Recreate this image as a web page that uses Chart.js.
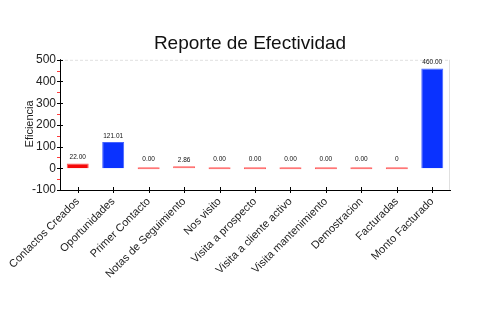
<!DOCTYPE html>
<html><head><meta charset="utf-8">
<script src="https://cdn.jsdelivr.net/npm/chart.js@4"></script>
<style>html,body{margin:0;padding:0;background:#fff}#wrap{width:500px;height:330px}</style>
</head><body><div id="wrap"><canvas id="c" width="500" height="330"></canvas></div>
<script>
const categories = ["Contactos Creados","Oportunidades","Primer Contacto","Notas de Seguimiento","Nos visito","Visita a prospecto","Visita a cliente activo","Visita mantenimiento","Demostracion","Facturadas","Monto Facturado"];
const values = [22.00, 121.01, 0.00, 2.86, 0.00, 0.00, 0.00, 0.00, 0.00, 0, 460.00];
const valueLabels = ["22.00","121.01","0.00","2.86","0.00","0.00","0.00","0.00","0.00","0","460.00"];
const yTicks = [-100, 0, 100, 200, 300, 400, 500];
const minorTicks = [-50, 50, 150, 250, 350, 450];

const FONT = "'Liberation Sans',Arial,sans-serif";
const RED = 'rgb(245,10,10)', BLUE = 'rgb(10,50,255)';
const fills = values.map(v => v >= 100 ? BLUE : (v > 10 ? RED : 'rgb(255,90,90)'));

const extras = {
  id: 'extras',
  afterDraw(chart) {
    const ctx = chart.ctx, y = chart.scales.y, x = chart.scales.x, a = chart.chartArea;
    ctx.save();
    ctx.strokeStyle = '#e0e0e0'; ctx.lineWidth = 1;
    ctx.setLineDash([3,2]);
    ctx.beginPath(); ctx.moveTo(a.left, a.top + 0.5); ctx.lineTo(a.right, a.top + 0.5); ctx.stroke();
    ctx.setLineDash([]);
    ctx.beginPath(); ctx.moveTo(a.right - 0.5, a.top); ctx.lineTo(a.right - 0.5, a.bottom); ctx.stroke();
    ctx.strokeStyle = 'rgb(255,60,60)';
    minorTicks.forEach(v => { const py = Math.round(y.getPixelForValue(v)) + 0.5;
      ctx.beginPath(); ctx.moveTo(a.left - 3, py); ctx.lineTo(a.left, py); ctx.stroke(); });
    ctx.strokeStyle = '#000';
    yTicks.forEach(v => { const py = Math.round(y.getPixelForValue(v)) + 0.5;
      ctx.beginPath(); ctx.moveTo(a.left - 3, py); ctx.lineTo(a.left + 3, py); ctx.stroke(); });
    categories.forEach((c, i) => { const px = Math.round(x.getPixelForValue(i)) + 0.5;
      ctx.beginPath(); ctx.moveTo(px, a.bottom - 3); ctx.lineTo(px, a.bottom + 3); ctx.stroke(); });
    ctx.save();
    ctx.translate(30, (a.top + a.bottom) / 2 - 1);
    ctx.rotate(-Math.PI / 2);
    ctx.fillStyle = '#222'; ctx.font = "11px " + FONT; ctx.textAlign = 'center'; ctx.textBaseline = 'middle';
    ctx.fillText('Eficiencia', 0, 0);
    ctx.restore();
    const meta = chart.getDatasetMeta(0);
    ctx.fillStyle = '#111'; ctx.font = "6.5px " + FONT; ctx.textAlign = 'center'; ctx.textBaseline = 'bottom';
    meta.data.forEach((bar, i) => {
      const top = Math.min(bar.y, bar.base) - 3;
      ctx.fillText(valueLabels[i], bar.x, top - (values[i] < 1 ? 2 : 0));
    });
    ctx.restore();
  }
};

new Chart(document.getElementById('c'), {
  type: 'bar',
  data: { labels: categories, datasets: [{ data: values, backgroundColor: fills,
    borderColor: fills.map(f => f === BLUE ? 'rgb(70,100,255)' : 'rgb(255,90,90)'), borderWidth: 1,
    barPercentage: 0.62, categoryPercentage: 1.0, minBarLength: 2 }] },
  options: {
    responsive: false, animation: false, devicePixelRatio: 1,
    layout: { padding: 0 },
    plugins: {
      legend: { display: false }, tooltip: { enabled: false },
      title: { display: true, text: 'Reporte de Efectividad', color: '#111',
        font: { family: FONT, size: 19, weight: 'normal' }, padding: { top: 32, bottom: 5 } }
    },
    scales: {
      y: { min: -100, max: 500, afterFit(s) { s.width = 60; },
        afterBuildTicks(s) { s.ticks = yTicks.map(v => ({ value: v })); },
        border: { display: true, color: '#000', width: 1 },
        grid: { display: false, drawTicks: false },
        ticks: { color: '#222', font: { family: FONT, size: 12 }, padding: 4 } },
      yr: { position: 'right', display: true, afterFit(s) { s.width = 50; },
        border: { display: false }, grid: { display: false, drawTicks: false }, ticks: { display: false } },
      x: { afterFit(s) { s.height = 140; },
        border: { display: true, color: '#000', width: 1 },
        grid: { display: false, drawTicks: false },
        ticks: { color: '#222', font: { family: FONT, size: 11 }, minRotation: 45, maxRotation: 45, padding: 5, autoSkip: false } }
    }
  },
  plugins: [extras]
});
</script></body></html>
